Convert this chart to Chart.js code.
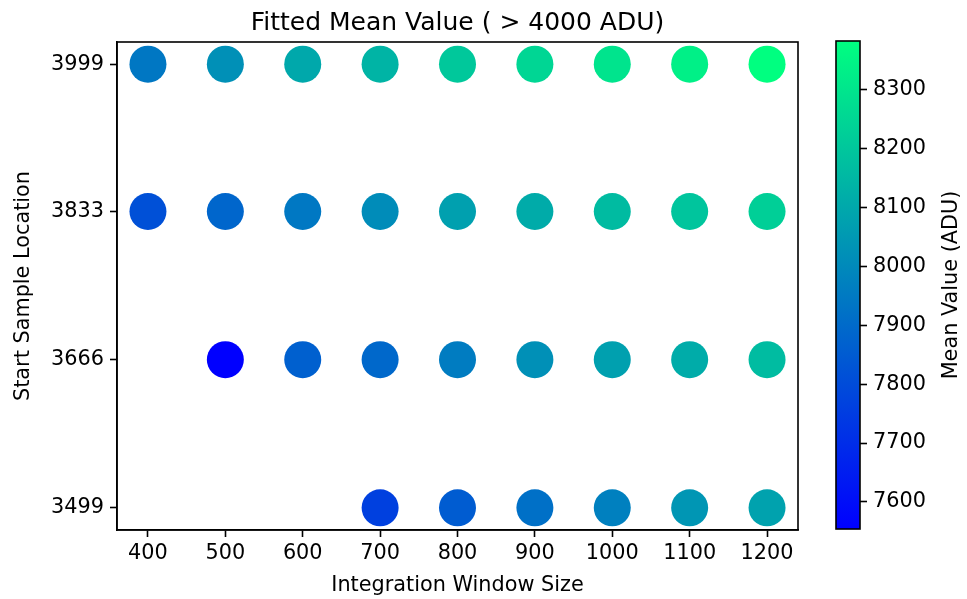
<!DOCTYPE html>
<html>
<head>
<meta charset="utf-8">
<script src="https://cdn.jsdelivr.net/npm/chart.js@4"></script>
<style>
  html, body { margin: 0; padding: 0; background: #fff; }
  #wrap { position: relative; width: 967px; height: 599px; }
  #main { position: absolute; left: 0; top: 0; }
  #cbar { position: absolute; left: 800px; top: 0; }
</style>
</head>
<body>
<div id="wrap">
  <canvas id="main" width="967" height="599"></canvas>
  <canvas id="cbar" width="167" height="599"></canvas>
</div>
<script>
// ---- data ----
const windowSizes = [400, 500, 600, 700, 800, 900, 1000, 1100, 1200];
const startLocations = [3999, 3833, 3666, 3499];
const mean3999 = [7941, 8022, 8100, 8139, 8204, 8250, 8295, 8334, 8383];
const mean3833 = [7814, 7886, 7944, 8009, 8074, 8110, 8162, 8194, 8227];
const mean3666 = [null, 7554, 7866, 7892, 7957, 8022, 8074, 8113, 8165];
const mean3499 = [null, null, null, 7762, 7853, 7918, 7970, 8042, 8081];
const xTickValues = [400, 500, 600, 700, 800, 900, 1000, 1100, 1200];
const yTickValues = [3499, 3666, 3833, 3999];
const cbTickValues = [7600, 7700, 7800, 7900, 8000, 8100, 8200, 8300];

const rows = [mean3999, mean3833, mean3666, mean3499];
const points = [];
rows.forEach((row, r) => {
  row.forEach((v, c) => {
    if (v !== null) points.push({ x: windowSizes[c], y: startLocations[r], v: v });
  });
});
const allVals = points.map(p => p.v);
const vmin = Math.min(...allVals);
const vmax = Math.max(...allVals);

function winter(v) {
  let t = (v - vmin) / (vmax - vmin);
  t = Math.max(0, Math.min(1, t));
  const g = Math.round(255 * t);
  const b = Math.round(255 * (1 - 0.5 * t));
  return `rgb(0,${g},${b})`;
}

const FONT = 'DejaVu Sans';
const fs = 20.8;
const tickFont = { family: FONT, size: fs };
const plain = v => String(v);

const framePlugin = {
  id: 'frame',
  afterDraw(chart) {
    const { ctx, chartArea: a } = chart;
    ctx.save();
    ctx.strokeStyle = '#000';
    ctx.lineWidth = 1.6;
    ctx.strokeRect(a.left, a.top, a.right - a.left, a.bottom - a.top);
    ctx.restore();
  }
};

new Chart(document.getElementById('main'), {
  type: 'scatter',
  data: {
    datasets: [{
      data: points,
      pointRadius: 18.5,
      pointHoverRadius: 18.5,
      borderWidth: 0,
      backgroundColor: ctx => ctx.raw ? winter(ctx.raw.v) : '#000',
      pointBorderColor: ctx => ctx.raw ? winter(ctx.raw.v) : '#000'
    }]
  },
  options: {
    responsive: false,
    animation: false,
    events: [],
    layout: { padding: { left: 0, right: 169, top: 0, bottom: 0 } },
    plugins: {
      legend: { display: false },
      tooltip: { enabled: false },
      title: {
        display: true,
        fullSize: false,
        text: 'Fitted Mean Value ( > 4000 ADU)',
        color: '#000',
        font: { family: FONT, size: 25, weight: 'normal', lineHeight: 1.2 },
        padding: { top: 8, bottom: 4 }
      }
    },
    scales: {
      x: {
        type: 'linear',
        min: 360, max: 1240,
        afterBuildTicks: s => { s.ticks = xTickValues.map(v => ({ value: v })); },
        afterFit: s => { s.height = 69; },
        grid: { drawOnChartArea: false, drawTicks: true, tickLength: 7, tickWidth: 1.6, tickColor: '#000' },
        border: { display: true, color: '#000', width: 1.6 },
        ticks: { color: '#000', font: tickFont, padding: 4, maxRotation: 0, autoSkip: false, callback: plain },
        title: { display: true, text: 'Integration Window Size', color: '#000', font: tickFont, padding: { top: 0, bottom: 1 } }
      },
      y: {
        type: 'linear',
        min: 3474, max: 4024,
        afterBuildTicks: s => { s.ticks = yTickValues.map(v => ({ value: v })); },
        afterFit: s => { s.width = 117; },
        grid: { drawOnChartArea: false, drawTicks: true, tickLength: 7, tickWidth: 1.6, tickColor: '#000' },
        border: { display: true, color: '#000', width: 1.6 },
        ticks: { color: '#000', font: tickFont, padding: 6, autoSkip: false, callback: plain },
        title: { display: true, text: 'Start Sample Location', color: '#000', font: tickFont, padding: { top: 11, bottom: 0 } }
      }
    }
  },
  plugins: [framePlugin]
});

const cbLabelPlugin = {
  id: 'cbLabel',
  afterDraw(chart) {
    const { ctx, chartArea: a } = chart;
    ctx.save();
    ctx.translate(152, (a.top + a.bottom) / 2);
    ctx.rotate(-Math.PI / 2);
    ctx.fillStyle = '#000';
    ctx.font = `${fs}px "${FONT}"`;
    ctx.textAlign = 'center';
    ctx.textBaseline = 'middle';
    ctx.fillText('Mean Value (ADU)', 0, 0);
    ctx.restore();
  }
};

new Chart(document.getElementById('cbar'), {
  type: 'bar',
  data: {
    labels: ['cb'],
    datasets: [{
      data: [[vmin, vmax]],
      barPercentage: 1,
      categoryPercentage: 1,
      borderWidth: 0,
      borderSkipped: false,
      backgroundColor: ctx => {
        const a = ctx.chart.chartArea;
        if (!a) return 'rgb(0,0,255)';
        const g = ctx.chart.ctx.createLinearGradient(0, a.bottom, 0, a.top);
        g.addColorStop(0, 'rgb(0,0,255)');
        g.addColorStop(1, 'rgb(0,255,128)');
        return g;
      }
    }]
  },
  options: {
    responsive: false,
    animation: false,
    events: [],
    layout: { padding: { left: 36, right: 7, top: 41, bottom: 70 } },
    plugins: { legend: { display: false }, tooltip: { enabled: false } },
    scales: {
      x: { display: false },
      y: {
        position: 'right',
        min: vmin, max: vmax,
        afterBuildTicks: s => { s.ticks = cbTickValues.map(v => ({ value: v })); },
        afterFit: s => { s.width = 100; },
        grid: { drawOnChartArea: false, drawTicks: true, tickLength: 7, tickWidth: 1.6, tickColor: '#000' },
        border: { display: false },
        ticks: { color: '#000', font: tickFont, padding: 6, autoSkip: false, callback: plain }
      }
    }
  },
  plugins: [framePlugin, cbLabelPlugin]
});
</script>
</body>
</html>
